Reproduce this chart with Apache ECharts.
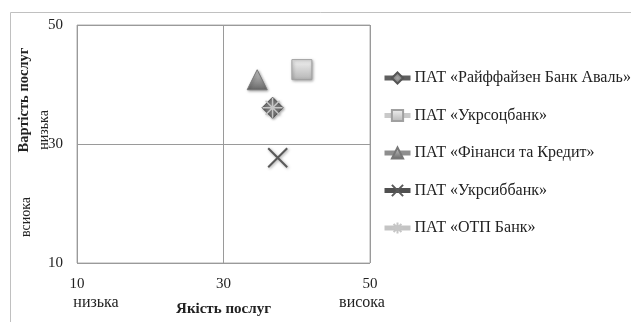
<!DOCTYPE html>
<html>
<head>
<meta charset="utf-8">
<script src="https://cdn.jsdelivr.net/npm/echarts@6/dist/echarts.min.js"></script>
<style>
  html, body { margin: 0; padding: 0; background: #fff; }
  #chart { width: 631px; height: 322px; }
</style>
</head>
<body>
<div id="chart"></div>
<script>
  // назви банків (легенда)
  const banks = ['ПАТ «Райффайзен Банк Аваль»', 'ПАТ «Укрсоцбанк»', 'ПАТ «Фінанси та Кредит»', 'ПАТ «Укрсиббанк»', 'ПАТ «ОТП Банк»']
  // Якість послуг (x) та Вартість послуг (y)
  const quality = [36.7, 40.7, 34.6, 37.4, 36.7]
  const cost = [36.1, 42.5, 40.8, 27.7, 36.1]
  const axisTicks = [10, 30, 50]

  const font = '"Liberation Serif", "Times New Roman", serif'
  const symbols = [
    'diamond',
    'rect',
    'triangle',
    'path://M0,0L10,10M10,0L0,10',
    'path://M10,0L10,20M0,10L20,10M3,3L17,17M17,3L3,17'
  ]
  const sizes = [21, 20, 20, 19, 20]
  const lineColors = ['#5f5f5f', '#c9c9c9', '#8e8e8e', '#505050', '#c4c4c4']
  const grad = (a, b) => new echarts.graphic.LinearGradient(0, 0, 0, 1, [
    {offset: 0, color: a}, {offset: 1, color: b}
  ])
  const itemStyles = [
    {color: new echarts.graphic.RadialGradient(0.5, 0.5, 0.6, [{offset: 0, color: '#aaaaaa'}, {offset: 1, color: '#555555'}]), borderColor: '#555555', borderWidth: 1},
    {color: grad('#f2f2f2', '#b5b5b5'), borderColor: '#a0a0a0', borderWidth: 1},
    {color: grad('#cfcfcf', '#666666'), borderColor: '#777777', borderWidth: 1},
    {color: 'rgba(0,0,0,0)', borderColor: '#5a5a5a', borderWidth: 2},
    {color: 'rgba(0,0,0,0)', borderColor: '#c6c6c6', borderWidth: 1.5}
  ]

  let chart = echarts.init(document.getElementById('chart'))
  let seriesData = []
  banks.forEach(function (name, index) {
    let st = Object.assign({
      shadowBlur: 3,
      shadowColor: 'rgba(0,0,0,0.35)',
      shadowOffsetX: 1,
      shadowOffsetY: 1
    }, itemStyles[index])
    seriesData.push({
      name: name,
      type: 'line',
      symbol: symbols[index],
      symbolSize: sizes[index],
      showSymbol: true,
      lineStyle: {color: lineColors[index], width: 5},
      itemStyle: st,
      data: [[quality[index], cost[index]]]
    })
  })

  let option = {
    animation: false,
    textStyle: {fontFamily: font},
    grid: {left: 77, top: 25, width: 293, height: 239, show: true, borderColor: '#b0b0b0', borderWidth: 1},
    legend: {
      orient: 'vertical',
      left: 377,
      top: 65,
      itemWidth: 26,
      itemHeight: 14,
      itemGap: 21.5,
      lineStyle: {width: 5},
      data: banks,
      textStyle: {fontFamily: font, fontSize: 16, color: '#222', padding: [0, 0, 0, -1]}
    },
    xAxis: {
      type: 'value',
      min: axisTicks[0],
      max: axisTicks[2],
      interval: axisTicks[1] - axisTicks[0],
      name: 'Якість послуг',
      nameLocation: 'middle',
      nameGap: 39,
      nameTextStyle: {fontFamily: font, fontSize: 15, fontWeight: 'bold', color: '#222'},
      axisLine: {show: false},
      axisTick: {show: false},
      axisLabel: {fontFamily: font, fontSize: 15, color: '#222', margin: 14},
      splitLine: {show: true, lineStyle: {color: '#9a9a9a', width: 1}}
    },
    yAxis: {
      type: 'value',
      min: axisTicks[0],
      max: axisTicks[2],
      interval: axisTicks[1] - axisTicks[0],
      axisLine: {show: false},
      axisTick: {show: false},
      axisLabel: {fontFamily: font, fontSize: 15, color: '#222', margin: 14},
      splitLine: {show: true, lineStyle: {color: '#9a9a9a', width: 1}}
    },
    graphic: [
      {type: 'line', shape: {x1: 10.5, y1: 12.5, x2: 631, y2: 12.5}, style: {stroke: '#c0c0c0', lineWidth: 1}},
      {type: 'line', shape: {x1: 10.5, y1: 12.5, x2: 10.5, y2: 322}, style: {stroke: '#c0c0c0', lineWidth: 1}},
      {type: 'text', x: 96, y: 303, style: {text: 'низька', font: '16px ' + font, fill: '#222', align: 'center', verticalAlign: 'middle'}},
      {type: 'text', x: 362, y: 303, style: {text: 'висока', font: '16px ' + font, fill: '#222', align: 'center', verticalAlign: 'middle'}},
      {type: 'text', x: 24, y: 100, rotation: Math.PI / 2, style: {text: 'Вартість послуг', font: 'bold 14.5px ' + font, fill: '#222', align: 'center', verticalAlign: 'middle'}},
      {type: 'text', x: 44, y: 130, rotation: Math.PI / 2, style: {text: 'низька', font: '14px ' + font, fill: '#222', align: 'center', verticalAlign: 'middle'}},
      {type: 'text', x: 26, y: 217, rotation: Math.PI / 2, style: {text: 'всиока', font: '14px ' + font, fill: '#222', align: 'center', verticalAlign: 'middle'}}
    ],
    series: seriesData
  }
  chart.setOption(option)
</script>
</body>
</html>
